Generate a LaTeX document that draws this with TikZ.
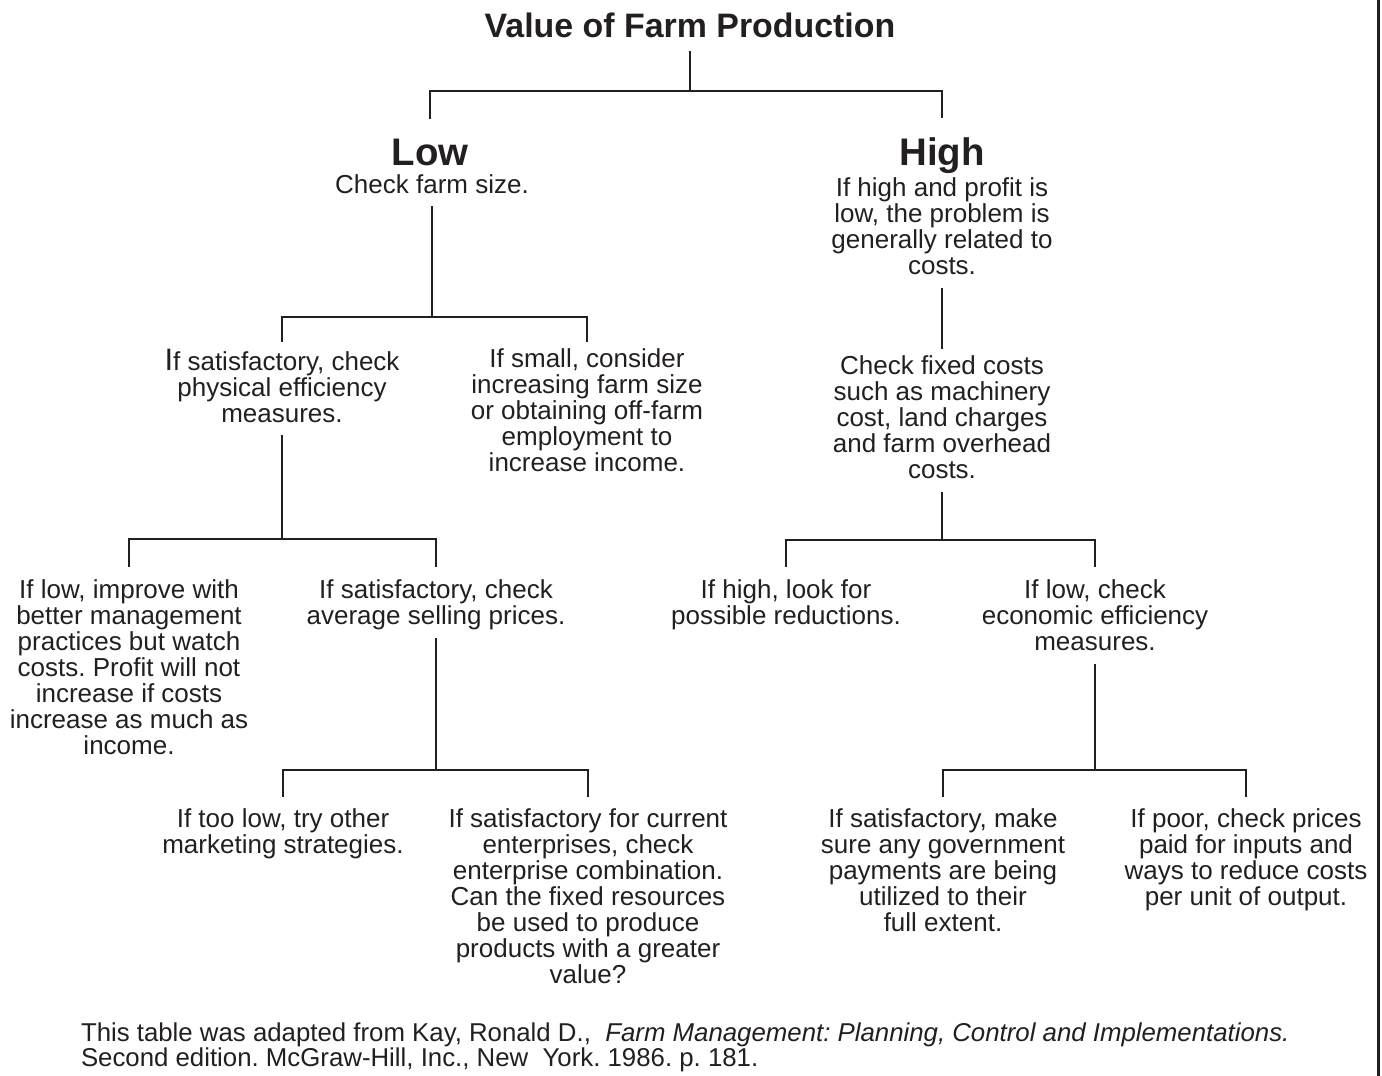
\documentclass[tikz,border=0pt]{standalone}
\usepackage{fontspec}
\setmainfont{Liberation Sans}
\frenchspacing
\definecolor{ink}{HTML}{231F20}
\newcommand\toprule{\rule{0pt}{9.5pt}}
\newcommand\botrule{\rule[-3pt]{0pt}{3pt}}
\begin{document}
\begin{tikzpicture}[x=0.5pt, y=-0.5pt, color=ink, line width=1pt,
    maintitle/.style={font=\fontsize{16.95}{20}\selectfont\bfseries, anchor=base, inner ysep=6.5pt},
    branch/.style={font=\fontsize{19.2}{22}\selectfont\bfseries, anchor=base, inner ysep=9.25pt},
    txt/.style={font=\fontsize{13}{13}\selectfont, align=center, anchor=north, inner xsep=0pt, inner ysep=3pt,
        execute at begin node=\toprule, execute at end node=\botrule},
    source/.style={font=\fontsize{12.9}{13}\selectfont, anchor=base west, inner sep=0pt}]
	\useasboundingbox (0,0) rectangle (1382,1076);
	\node[maintitle] (title) at (690,37) {Value of Farm Production};
	\node[branch] (low) at (430,165) {Low};
	\node[branch] (high) at (942,165) {High};
	\node[txt] (lowtxt) at (432,167) {Check farm size.};
	\node[txt] (hightxt) at (942,171) {If high and profit is\\low, the problem is\\generally related to\\costs.};
	\node[txt] (sat1) at (282,342) {{\fontsize{15.5}{13}\selectfont I}f satisfactory, check\\physical efficiency\\measures.};
	\node[txt] (small) at (587,342) {If small, consider\\increasing farm size\\or obtaining off-farm\\employment to\\increase income.};
	\node[txt] (fixed) at (942,349) {Check fixed costs\\such as machinery\\cost, land charges\\and farm overhead\\costs.};
	\node[txt] (lowimp) at (129,573) {If low, improve with\\better management\\practices but watch\\costs. Profit will not\\increase if costs\\increase as much as\\income.};
	\node[txt] (sat2) at (436,573) {If satisfactory, check\\average selling prices.};
	\node[txt] (highlook) at (786,573) {If high, look for\\possible reductions.};
	\node[txt] (lowcheck) at (1095,573) {If low, check\\economic efficiency\\measures.};
	\node[txt] (toolow) at (283,802) {If too low, try other\\marketing strategies.};
	\node[txt] (satcur) at (588,802) {If satisfactory for current\\enterprises, check\\enterprise combination.\\Can the fixed resources\\be used to produce\\products with a greater\\value?};
	\node[txt] (satmake) at (943,802) {If satisfactory, make\\sure any government\\payments are being\\utilized to their\\full extent.};
	\node[txt] (poor) at (1246,802) {If poor, check prices\\paid for inputs and\\ways to reduce costs\\per unit of output.};
	\node[source] (src1) at (80,1041) {This table was adapted from Kay, Ronald D.,\ \ \textit{Farm Management: Planning, Control and Implementations.}};
	\node[source] (src2) at (80,1066) {Second edition. McGraw-Hill, Inc., New\ \ York. 1986. p. 181.};

	% junctions
	\coordinate (j0) at (690,91);
	\coordinate (j1) at (432,317);
	\coordinate (j2) at (282,539);
	\coordinate (j3) at (942,540);
	\coordinate (j4) at (436,770);
	\coordinate (j5) at (1095,770);

	\foreach \up/\jn in {title/j0, lowtxt/j1, sat1/j2, fixed/j3, sat2/j4, lowcheck/j5}
		\draw (\up.south) -- (\jn);
	\draw (hightxt.south) -- (fixed.north);
	\foreach \lft/\jn/\rgt/\sh in {low/j0/high/0, sat1/j1/small/0, lowimp/j2/sat2/3,
	    highlook/j3/lowcheck/3, toolow/j4/satcur/2.5, satmake/j5/poor/2.5}
		\draw[shorten <=\sh pt, shorten >=\sh pt] (\lft.north) |- (\jn) -| (\rgt.north);

	\draw[line width=1.3pt] (1378.6,0) -- (1378.6,1076);
\end{tikzpicture}
\end{document}
